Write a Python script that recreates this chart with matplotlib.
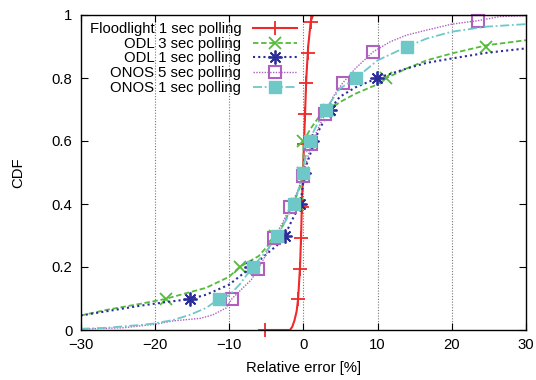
import matplotlib
matplotlib.use("Agg")
import matplotlib.pyplot as plt
from matplotlib.lines import Line2D

plt.rcParams['font.family'] = ['Liberation Sans', 'DejaVu Sans']

labels = ["Floodlight 1 sec polling", "ODL 3 sec polling", "ODL 1 sec polling",
          "ONOS 5 sec polling", "ONOS 1 sec polling"]

# Floodlight 1 sec
fl_x = [-5.2, -1.8, -1.5, -1.2, -0.9, -0.7, -0.45, -0.3, -0.2, -0.05, 0.1, 0.25, 0.4, 0.65, 1.0, 1.3, 30]
fl_y = [0, 0, 0.01, 0.03, 0.06, 0.1, 0.2, 0.3, 0.4, 0.5, 0.6, 0.7, 0.8, 0.9, 0.98, 1.0, 1.0]
fl_mx = [-5.2, -0.67, -0.42, -0.28, -0.18, -0.05, 0.05, 0.18, 0.37, 0.64, 0.97]
fl_my = [0, 0.097, 0.195, 0.293, 0.39, 0.49, 0.59, 0.686, 0.784, 0.88, 0.978]

# ODL 3 sec
o3_x = [-30, -26.5, -22, -18.7, -15.3, -13.1, -10, -8.6, -6, -5, -3.2, -2.2, -1.2, -0.5, 0, 0, 1, 2.2, 3.5, 4.9, 7, 10, 11.2, 13.9, 16.6, 20, 24.7, 30]
o3_y = [0.046, 0.064, 0.083, 0.098, 0.12, 0.134, 0.169, 0.2, 0.235, 0.262, 0.31, 0.36, 0.41, 0.45, 0.5, 0.6, 0.64, 0.68, 0.70, 0.723, 0.75, 0.78, 0.80, 0.83, 0.856, 0.878, 0.904, 0.92]
o3_mx = [-18.5, -8.55, -3.8, -0.9, 0, -0.1, 3.5, 11.2, 24.6]
o3_my = [0.1, 0.2, 0.3, 0.4, 0.5, 0.6, 0.7, 0.8, 0.9]

# ODL 1 sec
o1_x = [-30, -22, -18.7, -15.3, -13.1, -10, -8.6, -7, -5, -3.5, -2.5, -1.5, -0.4, 0, 0.5, 1.1, 2, 3.6, 4.9, 7, 10, 13.9, 16.6, 20, 24.7, 30]
o1_y = [0.046, 0.077, 0.088, 0.098, 0.112, 0.144, 0.17, 0.2, 0.24, 0.27, 0.3, 0.35, 0.4, 0.47, 0.53, 0.57, 0.63, 0.70, 0.74, 0.77, 0.80, 0.83, 0.848, 0.862, 0.88, 0.894]
o1_mx = [-15.3, -7.0, -2.5, -0.4, 0.05, 1.2, 3.6, 9.9]
o1_my = [0.1, 0.2, 0.3, 0.4, 0.5, 0.6, 0.7, 0.8]

# ONOS 5 sec
n5_x = [-30, -24.3, -20, -17.5, -13.9, -12.2, -10.4, -9.6, -8.6, -7, -6.07, -5, -3.95, -2.8, -1.8, -0.8, -0.05, 0.5, 1.06, 2, 2.9, 4, 5.3, 7, 9.4, 11.7, 13.9, 16.6, 20, 23.5, 26.5, 30]
n5_y = [0.003, 0.007, 0.018, 0.029, 0.037, 0.048, 0.07, 0.10, 0.123, 0.16, 0.195, 0.24, 0.293, 0.34, 0.39, 0.44, 0.49, 0.54, 0.59, 0.64, 0.686, 0.74, 0.784, 0.83, 0.883, 0.915, 0.936, 0.952, 0.971, 0.982, 0.995, 0.998]
n5_mx = [-9.6, -6.07, -3.95, -1.8, -0.05, 1.06, 2.9, 5.33, 9.4, 23.5]
n5_my = [0.1, 0.195, 0.293, 0.39, 0.49, 0.59, 0.686, 0.784, 0.883, 0.982]

# ONOS 1 sec
n1_x = [-30, -26.5, -22, -20, -17.5, -15.3, -13.1, -11.3, -10, -8.6, -6.85, -5, -3.5, -2.3, -1.3, -0.6, -0.1, 0.3, 0.74, 1.8, 3.0, 4.9, 7.1, 10, 14, 16.6, 20, 24.7, 30]
n1_y = [0.004, 0.007, 0.016, 0.021, 0.032, 0.048, 0.07, 0.10, 0.11, 0.144, 0.2, 0.25, 0.3, 0.35, 0.4, 0.45, 0.5, 0.55, 0.6, 0.65, 0.70, 0.766, 0.80, 0.856, 0.90, 0.925, 0.947, 0.963, 0.971]
n1_mx = [-11.3, -6.85, -3.5, -1.3, -0.1, 0.9, 3.1, 7.1, 14.0]
n1_my = [0.1, 0.2, 0.3, 0.4, 0.5, 0.6, 0.7, 0.8, 0.9]

xticks = [-30, -20, -10, 0, 10, 20, 30]
yticks = [0, 0.2, 0.4, 0.6, 0.8, 1]
ytick_labels = ["0", "0.2", "0.4", "0.6", "0.8", "1"]

styles = [
    dict(color="#ee2a2a", ls="-", lw=1.5, marker="+", ms=10, mew=1.3, mfc="none"),
    dict(color="#55bb3c", ls=(0, (3, 1.5)), lw=1.3, marker="x", ms=8.5, mew=1.3, mfc="none"),
    dict(color="#2d2d9a", ls=(0, (1, 1.5)), lw=1.5, marker=(8, 2, 0), ms=10, mew=1.3, mfc="none"),
    dict(color="#b05fc0", ls=(0, (1, 1)), lw=1.0, marker="s", ms=9, mew=1.5, mfc="none"),
    dict(color="#6fc8c8", ls=(0, (5, 1.5, 1, 1.5)), lw=1.3, marker="s", ms=9, mew=1.0, mfc="#6fc8c8"),
]
series = [(fl_x, fl_y, fl_mx, fl_my), (o3_x, o3_y, o3_mx, o3_my), (o1_x, o1_y, o1_mx, o1_my),
          (n5_x, n5_y, n5_mx, n5_my), (n1_x, n1_y, n1_mx, n1_my)]

fig = plt.figure(figsize=(5.36, 3.80), dpi=100)
ax = fig.add_axes([80.7 / 536, 1 - 330 / 380, (526 - 80.7) / 536, 315 / 380])

handles = []
for (x, y, mx, my), st, lab in zip(series, styles, labels):
    ax.plot(x, y, color=st["color"], ls=st["ls"], lw=st["lw"], clip_on=True)
    ax.plot(mx, my, ls="none", color=st["color"], marker=st["marker"], ms=st["ms"],
            mew=st["mew"], mfc=st["mfc"], mec=st["color"], clip_on=False)
    handles.append(Line2D([], [], color=st["color"], ls=st["ls"], lw=st["lw"],
                          marker=st["marker"], ms=st["ms"], mew=st["mew"],
                          mfc=st["mfc"], mec=st["color"]))

ax.set_xlim(-30, 30)
ax.set_ylim(0, 1)
ax.set_xticks(xticks)
ax.set_yticks(yticks)
ax.set_yticklabels(ytick_labels)
for xv in xticks[1:-1]:
    ax.axvline(xv, color="#777777", ls=(0, (1, 1.5)), lw=0.8, zorder=0)

ax.tick_params(direction="in", length=5, width=0.8, top=True, right=True,
               labelsize=10.7, pad=6, colors="black")
for sp in ax.spines.values():
    sp.set_linewidth(1.0)

ax.set_xlabel("Relative error [%]", fontsize=10.7, labelpad=6)
ax.set_ylabel("CDF", fontsize=10.7, labelpad=19)

leg = ax.legend(handles, labels, loc="upper right", bbox_to_anchor=(297 / 536, 1 - 22 / 380),
                bbox_transform=fig.transFigure, frameon=False, markerfirst=False,
                fontsize=10.7, handlelength=2.95, handletextpad=0.8, labelspacing=0.05,
                borderpad=0, borderaxespad=0)
for col in leg._legend_handle_box.get_children():
    col.align = "right"

fig.savefig("out.png", dpi=100)
